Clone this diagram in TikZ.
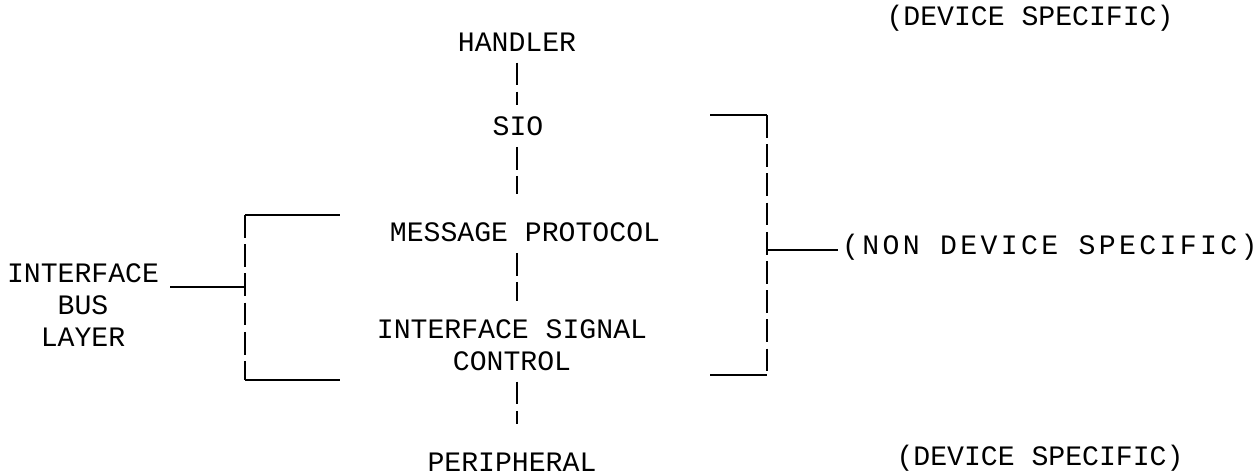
\documentclass[tikz,border=0pt]{standalone}
\usepackage{fontspec}
\setmonofont{Liberation Mono}
\usetikzlibrary{positioning}

\begin{document}
\begin{tikzpicture}[
    x=0.01cm, y=-0.01cm,
    every node/.style={font=\ttfamily\fontsize{8}{9}\selectfont, inner sep=1pt},
    layer/.style={inner sep=3pt},
    lbl/.style={align=center},
    bar/.style={line width=0.75pt, dash pattern=on 6.5pt off 1.8pt},
    rule/.style={line width=0.75pt}
  ]
  \useasboundingbox (0,0) rectangle (1257,473);

  % layer stack
  \node[layer] (handler) at (517,42) {HANDLER};
  \node[layer] (sio) at (518,126) {SIO};
  \node[layer] (msg) at (525,232) {MESSAGE PROTOCOL};
  \node[layer, lbl] (isc) at (512,345) {INTERFACE SIGNAL\\CONTROL};
  \node[layer] (periph) at (512,462) {PERIPHERAL};

  % side labels
  \node (devtop) at (1030,18) {(DEVICE SPECIFIC)};
  \node[anchor=west, font=\ttfamily\fontsize{8}{9}\selectfont\addfontfeature{LetterSpace=12}] (nondev) at (838,247) {(NON DEVICE SPECIFIC)};
  \node (devbot) at (1040,458) {(DEVICE SPECIFIC)};
  \node[lbl] (ibl) at (83,305) {INTERFACE\\BUS\\LAYER};

  \coordinate (spine) at (517,0);
  \draw[bar] (handler.south -| spine) -- (sio.north -| spine);
  \draw[bar, shorten >=5pt] (sio.south -| spine) -- (msg.north -| spine);
  \draw[bar, shorten >=2pt] (msg.south -| spine) -- (isc.north -| spine);
  \draw[bar, shorten >=5pt] (isc.south -| spine) -- (periph.north -| spine);

  % right bracket
  \coordinate (rtop) at (710,115);
  \coordinate (rt) at (767,115);
  \coordinate (rmid) at (767,250);
  \coordinate (rb) at (767,375);
  \coordinate (rbot) at (710,375);
  \draw[rule] (rtop) -- (rt);
  \draw[bar] (rt) -- (rb);
  \draw[rule] (rbot) -- (rb);
  \draw[rule] (rmid) -- (nondev.west |- rmid);

  % left bracket
  \coordinate (ltop) at (340,215);
  \coordinate (lt) at (245,215);
  \coordinate (lmid) at (245,287);
  \coordinate (lb) at (245,380);
  \coordinate (lbot) at (340,380);
  \coordinate (ltick) at (170,287);
  \draw[rule] (lt) -- (ltop);
  \draw[bar] (lt) -- (lb);
  \draw[rule] (lb) -- (lbot);
  \draw[rule] (ltick) -- (lmid);
\end{tikzpicture}
\end{document}
